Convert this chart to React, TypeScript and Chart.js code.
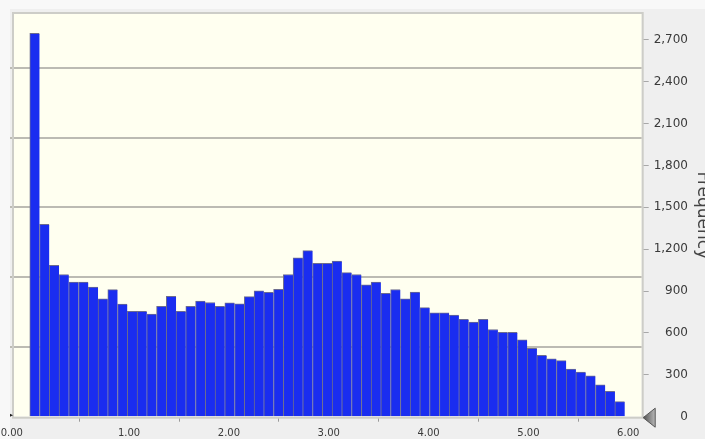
import React, { useEffect, useRef } from "react";
import { Chart, registerables } from "chart.js";

Chart.register(...registerables);

// Histogram bin counts (61 bins, left to right)
const frequencies: number[] = [
  2747, 1379, 1084, 1019, 965, 965, 929, 845, 910, 806,
  754, 754, 736, 791, 863, 754, 791, 828, 818, 791,
  816, 809, 860, 902, 891, 913, 1019, 1139, 1190, 1098,
  1098, 1114, 1032, 1019, 945, 965, 883, 911, 845, 893,
  782, 744, 744, 728, 698, 677, 698, 625, 604, 604,
  551, 490, 440, 414, 402, 342, 320, 292, 228, 182,
  108,
];
const binStart = 0.005;
const binWidth = 0.0977;
const binCenters: number[] = frequencies.map((_, i) => binStart + (i + 0.5) * binWidth);

const xTickValues: number[] = [0, 1, 2, 3, 4, 5, 6];
const xTickLabels: string[] = ["0.00", "1.00", "2.00", "3.00", "4.00", "5.00", "6.00"];
const yLabelTicks: number[] = [0, 300, 600, 900, 1200, 1500, 1800, 2100, 2400, 2700];
const yGridTicks: number[] = [500, 1000, 1500, 2000, 2500];
const yTitle = "Frequency";
const xMin = -0.153;
const xMax = 6.135;
const yMin = 0;
const yMax = 2885;

const CANVAS_W = 705;
const CANVAS_H = 439;

const decorPlugin = {
  id: "decor",
  beforeDraw(chart: any) {
    const { ctx, chartArea: a, width, height } = chart;
    ctx.save();
    ctx.fillStyle = "#f8f8f8";
    ctx.fillRect(0, 0, width, height);
    ctx.fillStyle = "#efefef";
    ctx.fillRect(10, 9, width - 10, height - 9);
    ctx.fillStyle = "#fffff0";
    ctx.fillRect(a.left, a.top, a.right - a.left, a.bottom - a.top);
    ctx.restore();
  },
  afterDatasetsDraw(chart: any) {
    const { ctx, chartArea: a } = chart;
    ctx.save();
    ctx.strokeStyle = "#cdcdc8";
    ctx.lineWidth = 2;
    ctx.strokeRect(a.left - 1, a.top - 1, a.right - a.left + 2, a.bottom - a.top + 2);
    ctx.restore();
  },
  afterDraw(chart: any) {
    const { ctx, chartArea: a } = chart;
    const y0 = chart.scales.y.getPixelForValue(0);
    ctx.save();
    // right-hand marker at zero level
    const tipX = a.right + 1.5;
    const g = ctx.createLinearGradient(tipX, 0, tipX + 12, 0);
    g.addColorStop(0, "#505050");
    g.addColorStop(1, "#b8b8b8");
    ctx.beginPath();
    ctx.moveTo(tipX, y0 + 1);
    ctx.lineTo(tipX + 12, y0 - 8.5);
    ctx.lineTo(tipX + 12, y0 + 10.5);
    ctx.closePath();
    ctx.fillStyle = g;
    ctx.fill();
    ctx.strokeStyle = "#555555";
    ctx.lineWidth = 1;
    ctx.stroke();
    // small left marker
    ctx.beginPath();
    ctx.moveTo(a.left - 4, y0 - 3);
    ctx.lineTo(a.left - 1, y0 - 1.5);
    ctx.lineTo(a.left - 4, y0);
    ctx.closePath();
    ctx.fillStyle = "#202020";
    ctx.fill();
    ctx.restore();
  },
};

const zeroPadding = (s: any) => {
  s.paddingLeft = 0;
  s.paddingRight = 0;
  s.paddingTop = 0;
  s.paddingBottom = 0;
};

export default function App() {
  const canvasRef = useRef<HTMLCanvasElement | null>(null);

  useEffect(() => {
    const canvas = canvasRef.current;
    if (!canvas) return;
    const chart = new Chart(canvas, {
      type: "bar",
      data: {
        datasets: [
          {
            data: binCenters.map((x, i) => ({ x, y: frequencies[i] })),
            backgroundColor: "#1a2df0",
            borderColor: "#6c6c8e",
            borderWidth: { top: 1, left: 1, right: 0, bottom: 0 },
            barPercentage: 1,
            categoryPercentage: 1,
            xAxisID: "x",
            yAxisID: "y",
          } as any,
        ],
      },
      options: {
        animation: false,
        responsive: false,
        maintainAspectRatio: false,
        devicePixelRatio: 1,
        layout: { padding: { left: 10, top: 14, right: 17, bottom: 0 }, autoPadding: false } as any,
        plugins: { legend: { display: false }, tooltip: { enabled: false } },
        scales: {
          x: {
            type: "linear",
            position: "bottom",
            min: xMin,
            max: xMax,
            offset: false,
            afterBuildTicks: (s: any) => {
              s.ticks = xTickValues.map((v) => ({ value: v }));
            },
            afterFit: (s: any) => {
              s.height = 22.3;
              zeroPadding(s);
            },
            grid: {
              display: true,
              drawOnChartArea: false,
              drawTicks: true,
              tickLength: 5,
              color: "#9a9a9a",
              lineWidth: 1,
            },
            border: { display: false },
            ticks: {
              autoSkip: false,
              maxRotation: 0,
              minRotation: 0,
              padding: 6,
              color: "#3a3a3a",
              font: { family: "DejaVu Sans", size: 10 },
              callback: (_v: any, i: number) =>
                i === 0 ? xTickLabels[i] + " ".repeat(11) : xTickLabels[i],
            },
          },
          y: {
            type: "linear",
            position: "right",
            min: yMin,
            max: yMax,
            afterBuildTicks: (s: any) => {
              s.ticks = yLabelTicks.map((v) => ({ value: v }));
            },
            afterFit: (s: any) => {
              s.width = CANVAS_W - 17 - 641.7;
              zeroPadding(s);
            },
            grid: {
              display: true,
              drawOnChartArea: false,
              drawTicks: true,
              tickLength: 7,
              color: "#a8a8a8",
              lineWidth: 1,
            },
            border: { display: false },
            ticks: {
              padding: 5,
              crossAlign: "far",
              color: "#3a3a3a",
              font: { family: "DejaVu Sans", size: 12 },
              callback: (v: any) => Number(v).toLocaleString("en-US"),
            },
            title: {
              display: true,
              text: yTitle,
              color: "#444444",
              font: { family: "DejaVu Sans", size: 17 },
              padding: { top: -25, bottom: 0 },
            },
          },
          yGrid: {
            type: "linear",
            position: "left",
            min: yMin,
            max: yMax,
            afterBuildTicks: (s: any) => {
              s.ticks = yGridTicks.map((v) => ({ value: v }));
            },
            afterFit: (s: any) => {
              s.width = 4;
              zeroPadding(s);
            },
            grid: {
              display: true,
              drawOnChartArea: true,
              drawTicks: true,
              tickLength: 4,
              color: "#bcbbb3",
              lineWidth: 2,
            },
            border: { display: false },
            ticks: { display: false },
          },
        },
      } as any,
      plugins: [decorPlugin as any],
    });
    return () => chart.destroy();
  }, []);

  return (
    <div
      style={{
        position: "fixed",
        left: 0,
        top: 0,
        width: CANVAS_W,
        height: CANVAS_H,
        overflow: "hidden",
      }}
    >
      <canvas
        ref={canvasRef}
        width={CANVAS_W}
        height={CANVAS_H}
        style={{ width: CANVAS_W, height: CANVAS_H, display: "block" }}
      />
    </div>
  );
}
